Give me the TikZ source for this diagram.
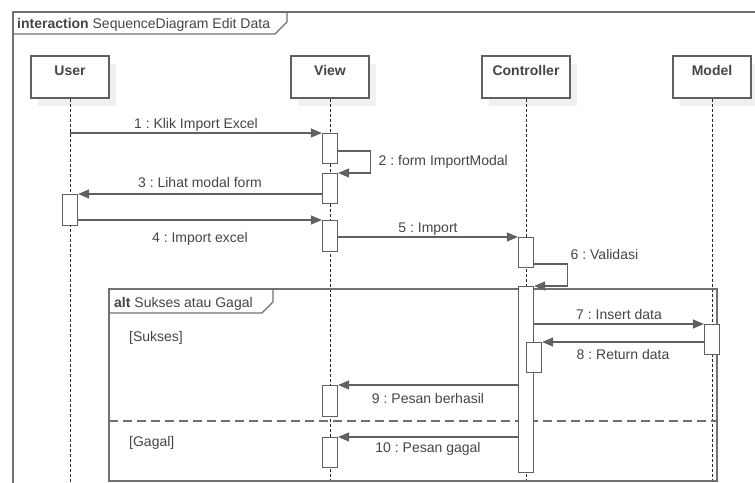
\documentclass[tikz,border=0pt]{standalone}
\usepackage{fontspec}
\setmainfont{Liberation Sans}
\frenchspacing
\usetikzlibrary{positioning, arrows.meta, shadows}
\definecolor{linegray}{HTML}{606060}
\definecolor{textgray}{HTML}{454545}
\tikzset{
	every node/.style={font=\fontsize{14}{16}\selectfont, text=textgray},
	head/.style={draw=linegray, line width=1.2pt, fill=white, minimum width=78pt, minimum height=42pt,
		text height=10pt, text depth=14pt, font=\fontsize{14}{16}\selectfont\bfseries,
		general shadow={fill=black!6, shadow xshift=7pt, shadow yshift=-8pt}},
	act/.style={draw=linegray, line width=1.2pt, fill=white, minimum width=15pt, inner sep=0pt, anchor=north},
	lifeline/.style={draw=black!85, line width=0.9pt, dash pattern=on 3pt off 2pt},
	outerline/.style={draw=linegray!90, line width=1.3pt},
	lbl/.style={inner sep=1pt, text height=10pt, text depth=3pt},
	msg/.style={draw=linegray, line width=1.2pt, -{Triangle[length=11pt,width=9pt]}},
	every edge/.style={msg}}

\begin{document}
\begin{tikzpicture}[x=1pt, y=-1pt]
    \useasboundingbox (0,0) rectangle (755,482);
    \draw[outerline] (13,490) -- (13,12) -- (760,12);
    \draw[outerline] (13,34) -- (275,34) -- (287,22) -- (287,12);
    \node[anchor=base west, inner sep=0pt] (title) at (17,28) {\textbf{interaction} SequenceDiagram Edit Data};

    \node[head] (user) at (70,77) {User};
    \node[head] (view) at (330,77) {View};
    \node[head, minimum width=88pt] (ctrl) at (526,77) {Controller};
    \node[head] (model) at (712,77) {Model};
    \foreach \p in {user, view, ctrl, model}
        \draw[lifeline] (\p.south) -- (\p.south |- 0,482);

    \draw[outerline] (109,289) rectangle (717,481);
    \draw[outerline] (109,313) -- (262,313) -- (273,302) -- (273,289);
    \node[anchor=base west, inner sep=0pt] (alt) at (114,307) {\textbf{alt} Sukses atau Gagal};
    \draw[outerline, dash pattern=on 9pt off 5pt] (109,421) -- (717,421);
    \node[anchor=west, lbl] (sukses) at (128,338) {[Sukses]};
    \node[anchor=west, lbl] (gagal) at (128,443) {[Gagal]};

    \node[act, minimum height=30pt] (v1) at (330,133) {};
    \node[act, minimum height=30pt] (v2) at (330,173) {};
    \node[act, minimum height=31pt] (ua) at (70,194) {};
    \node[act, minimum height=31pt] (v3) at (330,220) {};
    \node[act, minimum height=30pt] (c1) at (526,237) {};
    \node[act, minimum height=186pt] (c2) at (526,286) {};
    \node[act, minimum height=30pt] (m1) at (712,324) {};
    \node[act, minimum height=30pt] (c3) at (534,342) {};
    \node[act, minimum height=31pt] (v4) at (330,385) {};
    \node[act, minimum height=30pt] (v5) at (330,437) {};

    \draw (user.south |- v1.north) edge node[lbl, above] {1 : Klik Import Excel} (v1.north west);
    \draw[msg] (v1.east |- 0,151) -- ++(32,0) |- node[lbl, near start, right=7pt] {2 : form ImportModal} (v2.north east);
    \draw (v2.west |- ua.north) edge node[lbl, above=2pt] {3 : Lihat modal form} (ua.north east);
    \draw (ua.east |- v3.north) edge node[lbl, below=11pt] {4 : Import excel} (v3.north west);
    \draw (v3.east |- c1.north) edge node[lbl, above] {5 : Import} (c1.north west);
    \draw[msg] (c1.east |- 0,264) -- ++(33,0) node[lbl, anchor=south west, xshift=2pt] {6 : Validasi} |- (c2.north east);
    \draw (c2.east |- m1.north) edge node[lbl, above] {7 : Insert data} (m1.north west);
    \draw (m1.west |- c3.north) edge node[lbl, below=6pt] {8 : Return data} (c3.north east);
    \draw (c2.west |- v4.north) edge node[lbl, below=7pt] {9 : Pesan berhasil} (v4.north east);
    \draw (c2.west |- v5.north) edge node[lbl, below=4pt] {10 : Pesan gagal} (v5.north east);
\end{tikzpicture}
\end{document}
